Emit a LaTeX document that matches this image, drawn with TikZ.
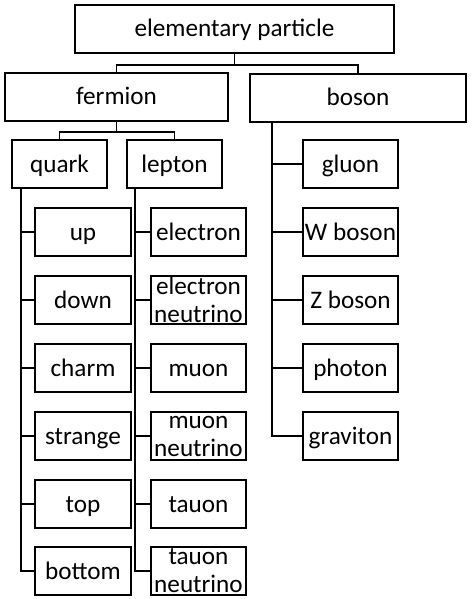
\documentclass[tikz,border=0pt]{standalone}
\usepackage{fontspec}
\setmainfont{Carlito}
\begin{document}
\begin{tikzpicture}[x=1pt,y=-1pt,
  box/.style={draw,line width=1.6pt,inner sep=0pt,align=center,
    font=\fontsize{25.2}{28}\selectfont},
  one/.style={text height=22pt,text depth=6pt},
  small/.style={box,minimum width=95pt,minimum height=48pt},
  conn/.style={line width=1.5pt}]
\useasboundingbox (0,0) rectangle (471,599);
\node[box,one,minimum width=319pt,minimum height=48pt] (ep) at (234.5,29) {elementary particle};
\node[box,one,minimum width=223pt,minimum height=48pt] (fermion) at (116.5,97) {fermion};
\node[box,one,minimum width=216pt,minimum height=48pt] (boson) at (358,98) {boson};
\node[small,one] (quark) at (59.5,164) {quark};
\node[small,one] (lepton) at (174.5,164) {lepton};
% quark column
\node[small,one,minimum width=96pt] (up) at (83,232) {up};
\node[small,one,minimum width=96pt] (down) at (83,300) {down};
\node[small,one,minimum width=96pt] (charm) at (83,368) {charm};
\node[small,one,minimum width=96pt] (strange) at (83,436) {strange};
\node[small,one,minimum width=96pt] (top) at (83,504) {top};
\node[small,one,minimum width=96pt] (bottom) at (83,571) {bottom};
% lepton column
\node[small,one] (electron) at (198.5,232) {electron};
\node[small] (enu) at (198.5,300) {electron\\neutrino};
\node[small,one] (muon) at (198.5,368) {muon};
\node[small] (mnu) at (198.5,436) {muon\\neutrino};
\node[small,one] (tauon) at (198.5,504) {tauon};
\node[small] (tnu) at (198.5,571) {tauon\\neutrino};
% boson column
\node[small,one] (gluon) at (350.5,164) {gluon};
\node[small,one] (wb) at (350.5,232) {W boson};
\node[small,one] (zb) at (350.5,300) {Z boson};
\node[small,one] (photon) at (350.5,368) {photon};
\node[small,one] (graviton) at (350.5,436) {graviton};
% connectors
\draw[conn] (ep.south) -- ++(0,11) coordinate (j1) -| (fermion.north);
\draw[conn] (j1) -| (boson.north);
\draw[conn] (fermion.south) -- ++(0,10) coordinate (j2) -| (quark.north);
\draw[conn] (j2) -| (lepton.north);
\coordinate (qt) at ([xshift=10pt]quark.south west);
\coordinate (lt) at ([xshift=9pt]lepton.south west);
\coordinate (bt) at ([xshift=23pt]boson.south west);
\foreach \n in {up,down,charm,strange,top,bottom} \draw[conn] (qt) |- (\n.west);
\foreach \n in {electron,enu,muon,mnu,tauon,tnu} \draw[conn] (lt) |- (\n.west);
\foreach \n in {gluon,wb,zb,photon,graviton} \draw[conn] (bt) |- (\n.west);
\end{tikzpicture}
\end{document}
